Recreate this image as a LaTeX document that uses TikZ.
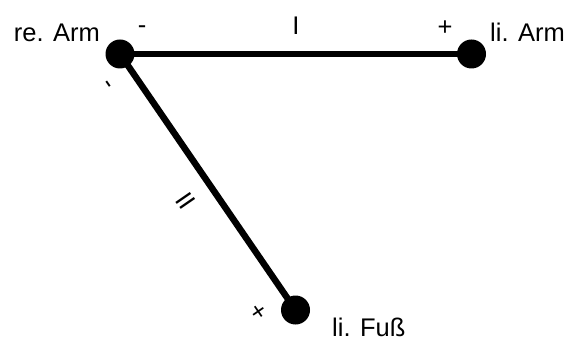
\documentclass[tikz,border=0pt]{standalone}
\usepackage{fontspec}
\setmainfont{Liberation Sans}
\begin{document}
\begin{tikzpicture}[x=1pt,y=-1pt,
  dot/.style={circle,fill=black,inner sep=0pt,minimum size=29pt},
  lead/.style={line width=6.5pt},
  lbl/.style={font=\fontsize{25.5}{30}\selectfont,inner sep=0pt}]
\useasboundingbox (0,0) rectangle (569,344);
\node[dot] (ra) at (120,54) {};
\node[dot] (la) at (471.5,54) {};
\node[dot] (lf) at (295.5,310) {};
\draw[lead] (ra.center) -- (la.center);
\draw[lead] (ra.center) -- (lf.center);
\node[lbl,anchor=base east] (tra) at (100,42) {re. Arm};
\node[lbl,anchor=base west] (tla) at (490,42) {li. Arm};
\node[lbl,anchor=base west] (tlf) at (332,336) {li. Fuß};
\node[lbl] (i) at (296,26) {I};
\node[lbl] (m1) at (142,30) {-};
\node[lbl] (p1) at (445,28.5) {+};
\node[lbl,rotate=-55.4] (ii) at (186,201) {II};
\node[lbl,rotate=-55.4] (m2) at (106,86) {-};
\node[lbl,rotate=-55.4] (p2) at (258,312) {+};
\end{tikzpicture}
\end{document}
